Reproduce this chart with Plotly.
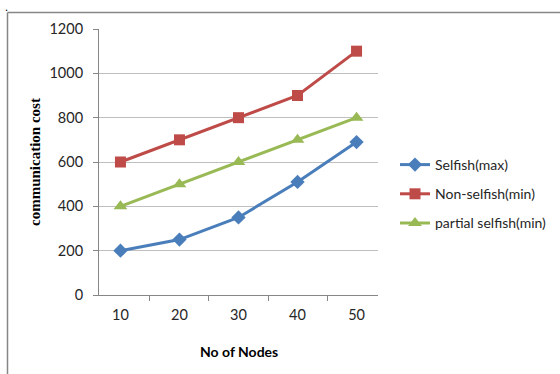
import plotly.graph_objects as go

# Number of nodes in the network (categories on the x axis)
nodes = ["10", "20", "30", "40", "50"]

# Communication cost per scheme
selfish_max = [200, 250, 350, 510, 690]
non_selfish_min = [600, 700, 800, 900, 1100]
partial_selfish_min = [400, 500, 600, 700, 800]

y_ticks = [0, 200, 400, 600, 800, 1000, 1200]

BLUE = "#4A7EBB"
RED = "#BE4B48"
GREEN = "#98B954"
TICK_FONT = dict(family="Lato, Open Sans, sans-serif", size=14.5, color="#262626")
LEGEND_FONT = dict(family="Lato, Open Sans, sans-serif", size=14, color="#262626")

# plot area in pixels
PL, PR, PT, PB = 99, 378, 29, 295
PW, PH = PR - PL, PB - PT

fig = go.Figure()
fig.add_trace(go.Scatter(
    x=nodes, y=selfish_max, name="Selfish(max)", mode="lines+markers", legendgroup="a",
    line=dict(color=BLUE, width=3), marker=dict(symbol="diamond", size=11, color=BLUE),
))
fig.add_trace(go.Scatter(
    x=nodes, y=non_selfish_min, name="Non-selfish(min)", mode="lines+markers", legendgroup="b",
    line=dict(color=RED, width=3), marker=dict(symbol="square", size=11, color=RED),
))
fig.add_trace(go.Scatter(
    x=nodes, y=partial_selfish_min, name="partial selfish(min)", mode="lines+markers", legendgroup="c",
    line=dict(color=GREEN, width=3), marker=dict(symbol="triangle-up", size=12, color=GREEN),
))

frame_x = -(PL - 7.5) / PW
frame_top = (PB - 12.5) / PH

fig.update_layout(
    width=560, height=374,
    margin=dict(l=PL, r=560 - PR, t=PT, b=374 - PB, autoexpand=False),
    paper_bgcolor="white", plot_bgcolor="white",
    showlegend=True,
    legend=dict(
        x=(395 - PL) / PW, y=(PB - 194) / PH, xanchor="left", yanchor="middle",
        font=LEGEND_FONT, itemwidth=30, tracegroupgap=8, traceorder="grouped",
        bgcolor="rgba(0,0,0,0)",
    ),
    xaxis=dict(
        type="category", tickson="boundaries",
        showline=True, linecolor="#868686", linewidth=1,
        ticks="outside", ticklen=5, tickcolor="#868686",
        showgrid=False, tickfont=TICK_FONT, ticklabelstandoff=7,
        fixedrange=True,
    ),
    yaxis=dict(
        range=[0, 1200], tickvals=y_ticks,
        showline=True, linecolor="#868686", linewidth=1,
        ticks="outside", ticklen=5, tickcolor="#868686",
        showgrid=True, gridcolor="#BFBFBF", gridwidth=1,
        zeroline=False, tickfont=TICK_FONT, ticklabelstandoff=7,
    ),
    annotations=[
        dict(text="<b>communication cost</b>", xref="paper", yref="paper",
             x=(35 - PL) / PW, y=0.5, xanchor="center", yanchor="middle", textangle=-90,
             showarrow=False,
             font=dict(family="Liberation Serif, Times New Roman, serif", size=15, color="black")),
        dict(text="<b>No of Nodes</b>", xref="paper", yref="paper",
             x=0.5, y=(PB - 351) / PH, xanchor="center", yanchor="middle", showarrow=False,
             font=dict(family="Lato, Open Sans, sans-serif", size=14, color="black")),
        dict(text=".", xref="paper", yref="paper", x=(3 - PL) / PW, y=(PB + 2) / PH,
             xanchor="left", yanchor="top", showarrow=False,
             font=dict(family="Liberation Serif, serif", size=12, color="black")),
    ],
    shapes=[
        # chart frame: left and top edges
        dict(type="line", xref="paper", yref="paper",
             x0=frame_x, x1=frame_x, y0=-(374 - PB) / PH, y1=frame_top,
             line=dict(color="#868686", width=1.5)),
        dict(type="line", xref="paper", yref="paper",
             x0=frame_x, x1=(560 - PL) / PW, y0=frame_top, y1=frame_top,
             line=dict(color="#868686", width=1.5)),
    ],
)

fig.write_html("out.html")
